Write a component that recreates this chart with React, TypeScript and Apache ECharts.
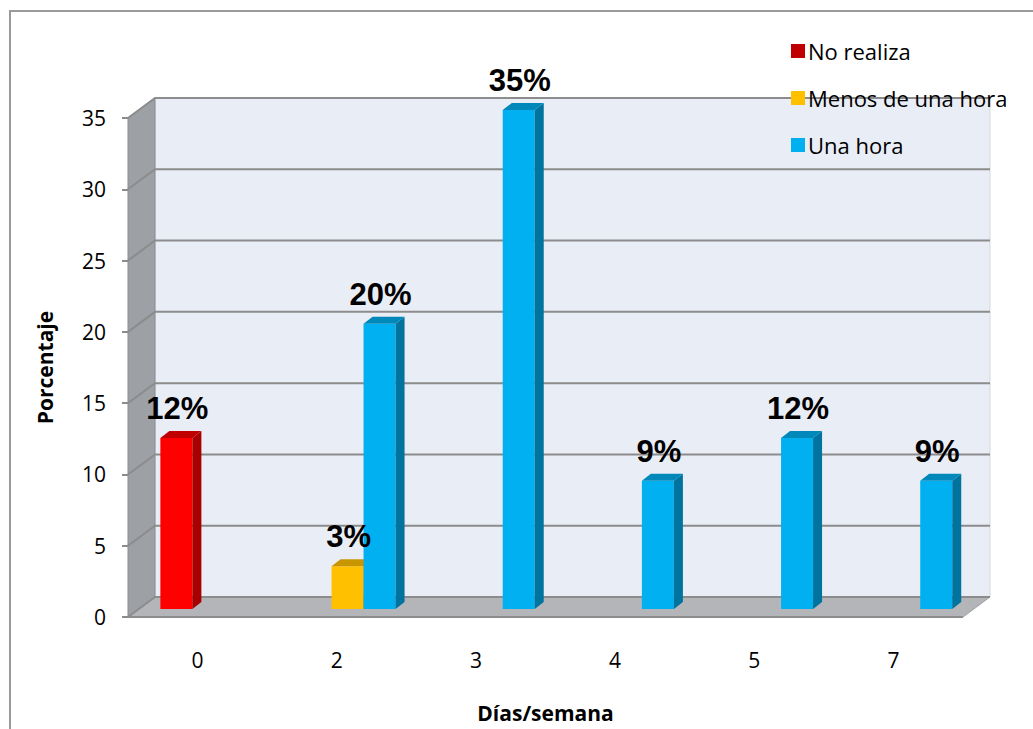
import React, { useEffect, useRef } from "react";
import * as echarts from "echarts";

// Days per week (category axis)
const categories = ["0", "2", "3", "4", "5", "7"];

// Percentages per series, aligned with categories (null = no bar)
const seriesNames = ["No realiza", "Menos de una hora", "Una hora"];
const noRealiza = [12, null, null, null, null, null];
const menosDeUnaHora = [null, 3, null, null, null, null];
const unaHora = [null, 20, 35, 9, 12, 9];

// Value axis
const yMin = 0;
const yMax = 35;
const yInterval = 5;

// Colours per series: front face, side face, top face, legend swatch
const palette = [
  { front: "#FF0000", side: "#A80000", top: "#C00000", legend: "#C00000" },
  { front: "#FFC000", side: "#BF9000", top: "#C89600", legend: "#FFC000" },
  { front: "#00B0F0", side: "#00739E", top: "#0088BA", legend: "#00B0F0" },
];

// 3D look: back wall offset from the front plane, bars sit at 40% depth
const DEPTH_X = 27;
const DEPTH_Y = -20;
const BAR_PLANE = 0.4;
const BAR_SIDE_X = 9;
const BAR_SIDE_Y = -7;
const BAR_FRACTION = 0.23;

const LABEL_FONT = "'Open Sans', 'Noto Sans', sans-serif";
const VALUE_FONT = "'Liberation Sans', Arial, sans-serif";

const allSeries = [noRealiza, menosDeUnaHora, unaHora];

// Geometry of bar k at category idx, in pixels
function barBox(api: any, k: number, idx: number, val: number) {
  const [cx, yTopFront] = api.coord([idx, val]);
  const yZero = api.coord([idx, 0])[1];
  const bandW = api.size([1, 0])[0];
  const barW = bandW * BAR_FRACTION;
  const n = allSeries.length;
  const x0 = cx - (n / 2) * barW + k * barW + DEPTH_X * BAR_PLANE;
  const yT = yTopFront + DEPTH_Y * BAR_PLANE;
  const yB = yZero + DEPTH_Y * BAR_PLANE;
  return { x0, barW, yT, yB };
}

function seriesData(values: (number | null)[]) {
  return values.map((v, i) => (v == null ? null : [i, v])).filter((d) => d !== null);
}

export default function App() {
  const ref = useRef<HTMLDivElement>(null);

  useEffect(() => {
    if (!ref.current) return;
    const chart = echarts.init(ref.current, null, { renderer: "svg" });

    const wallsSeries = {
      type: "custom",
      name: "walls",
      silent: true,
      z: 1,
      data: [[0, 0]],
      encode: { x: 0, y: 1 },
      renderItem: (params: any, api: any) => {
        const cs = params.coordSys;
        const left = cs.x;
        const right = cs.x + cs.width;
        const yOf = (v: number) => api.coord([0, v])[1];
        const yTop = yOf(yMax);
        const yBot = yOf(yMin);
        const children: any[] = [];
        // back wall
        children.push({
          type: "rect",
          shape: { x: left + DEPTH_X, y: yTop + DEPTH_Y, width: cs.width, height: yBot - yTop },
          style: { fill: "#E9EDF6", stroke: "#D3D7DF", lineWidth: 1 },
        });
        // left side wall
        children.push({
          type: "polygon",
          shape: {
            points: [
              [left, yTop],
              [left + DEPTH_X, yTop + DEPTH_Y],
              [left + DEPTH_X, yBot + DEPTH_Y],
              [left, yBot],
            ],
          },
          style: { fill: "#9DA0A5", stroke: "#8A8C90", lineWidth: 1 },
        });
        // floor
        children.push({
          type: "polygon",
          shape: {
            points: [
              [left, yBot],
              [right, yBot],
              [right + DEPTH_X, yBot + DEPTH_Y],
              [left + DEPTH_X, yBot + DEPTH_Y],
            ],
          },
          style: { fill: "#B3B5B9", stroke: "#A0A2A6", lineWidth: 1 },
        });
        // floor front edge
        children.push({
          type: "line",
          shape: { x1: left, y1: yBot, x2: right, y2: yBot },
          style: { stroke: "#8C8C8C", lineWidth: 2 },
        });
        // gridlines across side wall and back wall
        for (let v = yMin; v <= yMax; v += yInterval) {
          const y = yOf(v);
          children.push({
            type: "polyline",
            shape: {
              points: [
                [left, y],
                [left + DEPTH_X, y + DEPTH_Y],
                [right + DEPTH_X, y + DEPTH_Y],
              ],
            },
            style: { stroke: "#8C8C8C", lineWidth: 2, fill: null },
          });
        }
        return { type: "group", children };
      },
    };

    const barSeries = allSeries.map((values, k) => ({
      type: "custom",
      name: seriesNames[k],
      z: 2 + k,
      itemStyle: { color: palette[k].legend },
      data: seriesData(values),
      encode: { x: 0, y: 1 },
      renderItem: (params: any, api: any) => {
        const { x0, barW, yT, yB } = barBox(api, k, api.value(0), api.value(1));
        const c = palette[k];
        return {
          type: "group",
          children: [
            {
              type: "rect",
              shape: { x: x0, y: yT, width: barW, height: yB - yT },
              style: { fill: c.front },
            },
            {
              type: "polygon",
              shape: {
                points: [
                  [x0 + barW, yT],
                  [x0 + barW + BAR_SIDE_X, yT + BAR_SIDE_Y],
                  [x0 + barW + BAR_SIDE_X, yB + BAR_SIDE_Y],
                  [x0 + barW, yB],
                ],
              },
              style: { fill: c.side },
            },
            {
              type: "polygon",
              shape: {
                points: [
                  [x0, yT],
                  [x0 + BAR_SIDE_X, yT + BAR_SIDE_Y],
                  [x0 + barW + BAR_SIDE_X, yT + BAR_SIDE_Y],
                  [x0 + barW, yT],
                ],
              },
              style: { fill: c.top },
            },
          ],
        };
      },
    }));

    // Percentage labels above each bar, drawn over all bars
    const labelSeries = allSeries.map((values, k) => ({
      type: "custom",
      name: `${seriesNames[k]} (etiquetas)`,
      silent: true,
      z: 10,
      data: seriesData(values),
      encode: { x: 0, y: 1 },
      renderItem: (params: any, api: any) => {
        const val = api.value(1);
        const { x0, barW, yT } = barBox(api, k, api.value(0), val);
        return {
          type: "text",
          style: {
            text: `${val}%`,
            x: x0 + barW / 2 + 1,
            y: yT - 14,
            align: "center",
            verticalAlign: "bottom",
            fill: "#000",
            fontSize: 31,
            fontWeight: "bold",
            fontFamily: VALUE_FONT,
          },
        };
      },
    }));

    chart.setOption({
      animation: false,
      backgroundColor: "#fff",
      grid: { left: 128, top: 118, width: 835, height: 499, containLabel: false },
      legend: {
        orient: "vertical",
        left: 786,
        top: 35,
        icon: "rect",
        itemWidth: 14,
        itemHeight: 14,
        itemGap: 25,
        data: seriesNames.map((name, k) => ({ name, itemStyle: { color: palette[k].legend } })),
        textStyle: { fontSize: 22, color: "#000", fontFamily: LABEL_FONT, padding: [0, 0, 0, -2] },
      },
      xAxis: {
        type: "category",
        data: categories,
        name: "Días/semana",
        nameLocation: "middle",
        nameGap: 85,
        nameTextStyle: { fontSize: 21, fontWeight: "bold", color: "#000", fontFamily: LABEL_FONT },
        axisLine: { show: false },
        axisTick: { show: false },
        axisLabel: { fontSize: 21, color: "#000", margin: 32, fontFamily: LABEL_FONT },
        splitLine: { show: false },
      },
      yAxis: {
        type: "value",
        min: yMin,
        max: yMax,
        interval: yInterval,
        name: "Porcentaje",
        nameLocation: "middle",
        nameGap: 73,
        nameRotate: 90,
        nameTextStyle: { fontSize: 21, fontWeight: "bold", color: "#000", fontFamily: LABEL_FONT },
        axisLine: { show: false },
        axisTick: { show: true, length: 6, lineStyle: { color: "#8C8C8C", width: 2 } },
        axisLabel: { fontSize: 21, color: "#000", margin: 22, fontFamily: LABEL_FONT },
        splitLine: { show: false },
      },
      graphic: [
        {
          type: "rect",
          x: 10,
          y: 11,
          shape: { width: 1100, height: 800 },
          style: { fill: "transparent", stroke: "#9A9A9A", lineWidth: 2 },
          silent: true,
          z: 0,
        },
      ],
      series: [wallsSeries, ...barSeries, ...labelSeries],
    });

    return () => chart.dispose();
  }, []);

  return (
    <div
      ref={ref}
      style={{ position: "absolute", left: 0, top: 0, width: 1033, height: 729 }}
    />
  );
}
